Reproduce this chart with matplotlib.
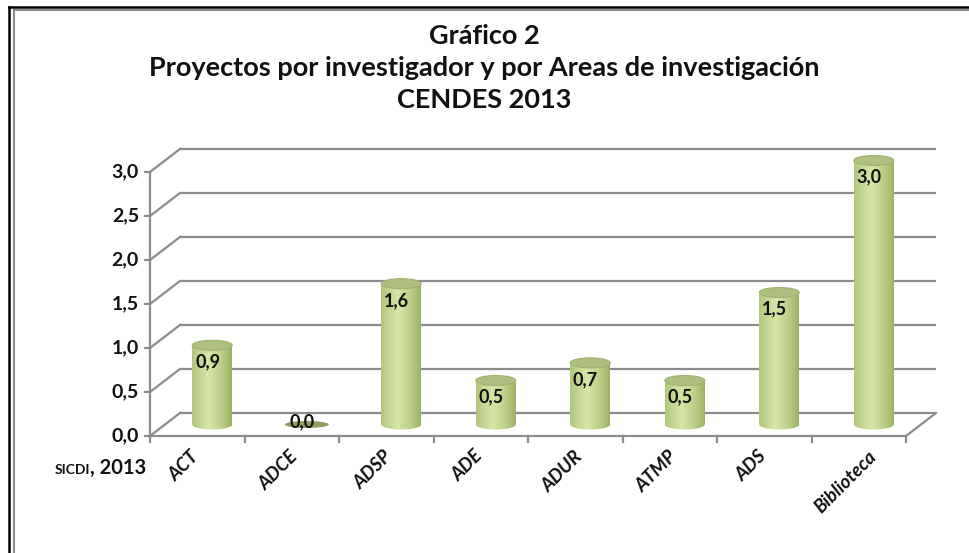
import numpy as np
import matplotlib
matplotlib.use("Agg")
import matplotlib.pyplot as plt
from matplotlib.patches import Ellipse, Rectangle
from matplotlib.lines import Line2D
from matplotlib.transforms import offset_copy

plt.rcParams["font.family"] = ["Lato", "DejaVu Sans"]

categories = ["ACT", "ADCE", "ADSP", "ADE", "ADUR", "ATMP", "ADS", "Biblioteca"]
values = [0.9, 0.0, 1.6, 0.5, 0.7, 0.5, 1.5, 3.0]
value_labels = ["0,9", "0,0", "1,6", "0,5", "0,7", "0,5", "1,5", "3,0"]
y_ticks = [0.0, 0.5, 1.0, 1.5, 2.0, 2.5, 3.0]
y_tick_labels = ["0,0", "0,5", "1,0", "1,5", "2,0", "2,5", "3,0"]
title = "Gráfico 2\nProyectos por investigador y por Areas de investigación\nCENDES 2013"

W, H = 969, 553
fig = plt.figure(figsize=(W / 100, H / 100), dpi=100)

# pixel layout of the pseudo 3D plot
px_x0, px_cat = 150, 94.5      # front axis start, pixels per category
px_y0, px_unit = 436, 88       # front zero line, pixels per unit
depth_x, depth_y = 30 / px_cat, 23 / px_unit   # wall offset in data units

ax_left, ax_right, ax_top, ax_bottom = 150, 945, 140, 445
ax = fig.add_axes([ax_left / W, (H - ax_bottom) / H,
                   (ax_right - ax_left) / W, (ax_bottom - ax_top) / H])
ax.set_xlim(-0.5, -0.5 + (ax_right - ax_left) / px_cat)
ax.set_ylim((px_y0 - ax_bottom) / px_unit, (px_y0 - ax_top) / px_unit)
ax.axis("off")

n = len(categories)
grid_c = "#8c8c8c"
txt_c = "#111111"
x_lo, x_hi = -0.5, n - 0.5

# back wall gridlines + left diagonals
for t in y_ticks:
    ax.plot([x_lo + depth_x, x_hi + depth_x], [t + depth_y, t + depth_y],
            color=grid_c, lw=1.6, solid_capstyle="butt", clip_on=False)
    ax.plot([x_lo, x_lo + depth_x], [t, t + depth_y], color=grid_c, lw=1.6, clip_on=False)
# floor right edge
ax.plot([x_hi, x_hi + depth_x], [0, depth_y], color=grid_c, lw=1.6, clip_on=False)
# front axes
ax.plot([x_lo, x_hi], [0, 0], color=grid_c, lw=1.6, clip_on=False)
ax.plot([x_lo, x_lo], [0, y_ticks[-1]], color=grid_c, lw=1.6, clip_on=False)
for t, lab in zip(y_ticks, y_tick_labels):
    ax.plot([x_lo - 5 / px_cat, x_lo], [t, t], color=grid_c, lw=1.6, clip_on=False)
    ax.text(x_lo - 11 / px_cat, t, lab, ha="right", va="center",
            fontsize=14, fontweight="bold", color=txt_c)
for i in range(n + 1):
    ax.plot([x_lo + i, x_lo + i], [0, -6 / px_unit], color=grid_c, lw=1.6, clip_on=False)

# category labels (rotated box centred a bit left of the category)
for i, c in enumerate(categories):
    ax.text(i - 0.14, -0.13, c, rotation=45, ha="center", va="top",
            fontsize=13.5, fontweight="bold", style="italic", color=txt_c)

# cylinders
cyl_w = 40 / px_cat
ell_h = 10 / px_unit
grad = np.linspace(0, 1, 200)
shade = 1 - np.abs(grad - 0.42) / 0.58
shade = np.clip(shade, 0, 1) ** 0.7
dark = np.array([0x98, 0xae, 0x5e]) / 255
light = np.array([0xd6, 0xe6, 0xa6]) / 255
img = (dark[None, :] + (light - dark)[None, :] * shade[:, None])[None, :, :]

for i, (v, lab) in enumerate(zip(values, value_labels)):
    cx = i + depth_x / 2
    base = depth_y / 2
    top = v + base
    if v > 0:
        bottom_ell = Ellipse((cx, base), cyl_w, ell_h, facecolor="none", edgecolor="none")
        ax.add_patch(bottom_ell)
        body = Rectangle((cx - cyl_w / 2, base), cyl_w, v, facecolor="none", edgecolor="none")
        ax.add_patch(body)
        for clip in (body, bottom_ell):
            im = ax.imshow(img, extent=[cx - cyl_w / 2, cx + cyl_w / 2, base - ell_h, top],
                           aspect="auto", zorder=3, interpolation="bilinear")
            im.set_clip_path(clip)
        ax.add_patch(Ellipse((cx, top), cyl_w, ell_h, facecolor="#aebf7f",
                             edgecolor="#a0b371", lw=0.8, zorder=4))
        ax.text(cx - 0.05, top - 0.19, lab, ha="center", va="center", fontsize=13,
                fontweight="bold", color=txt_c, zorder=5)
    else:
        ax.add_patch(Ellipse((cx, base), cyl_w * 1.1, 7 / px_unit, facecolor="#8e9e5c",
                             edgecolor="none", zorder=4))
        ax.text(cx - 0.05, base + 0.03, lab, ha="center", va="center", fontsize=13,
                fontweight="bold", color=txt_c, zorder=5)

# title
fig.text(484 / W, 1 - 68 / H, title, ha="center", va="center", fontsize=19.5,
         fontweight="bold", linespacing=1.4, color=txt_c)

# source note
src = fig.text(55 / W, 1 - 474 / H, "SICDI", ha="left", va="baseline", fontsize=10,
               fontweight="bold", color=txt_c)
fig.canvas.draw()
src_w = src.get_window_extent().width
fig.text(55 / W, 1 - 474 / H, ", 2013", ha="left", va="baseline", fontsize=14.5,
         fontweight="bold", color=txt_c,
         transform=offset_copy(fig.transFigure, fig=fig, x=src_w, y=0, units="dots"))

# chart frame (black outer + grey inner, left and top only)
fig.add_artist(Line2D([8.5 / W, 8.5 / W], [0, 1 - 6.5 / H], color="black", lw=1.8))
fig.add_artist(Line2D([8.5 / W, 1], [1 - 6.5 / H, 1 - 6.5 / H], color="black", lw=1.8))
fig.add_artist(Line2D([13.5 / W, 13.5 / W], [0, 1 - 9.5 / H], color="#8c8c8c", lw=1.5))
fig.add_artist(Line2D([13.5 / W, 1], [1 - 9.5 / H, 1 - 9.5 / H], color="#8c8c8c", lw=1.5))

fig.savefig("out.png", dpi=100)
